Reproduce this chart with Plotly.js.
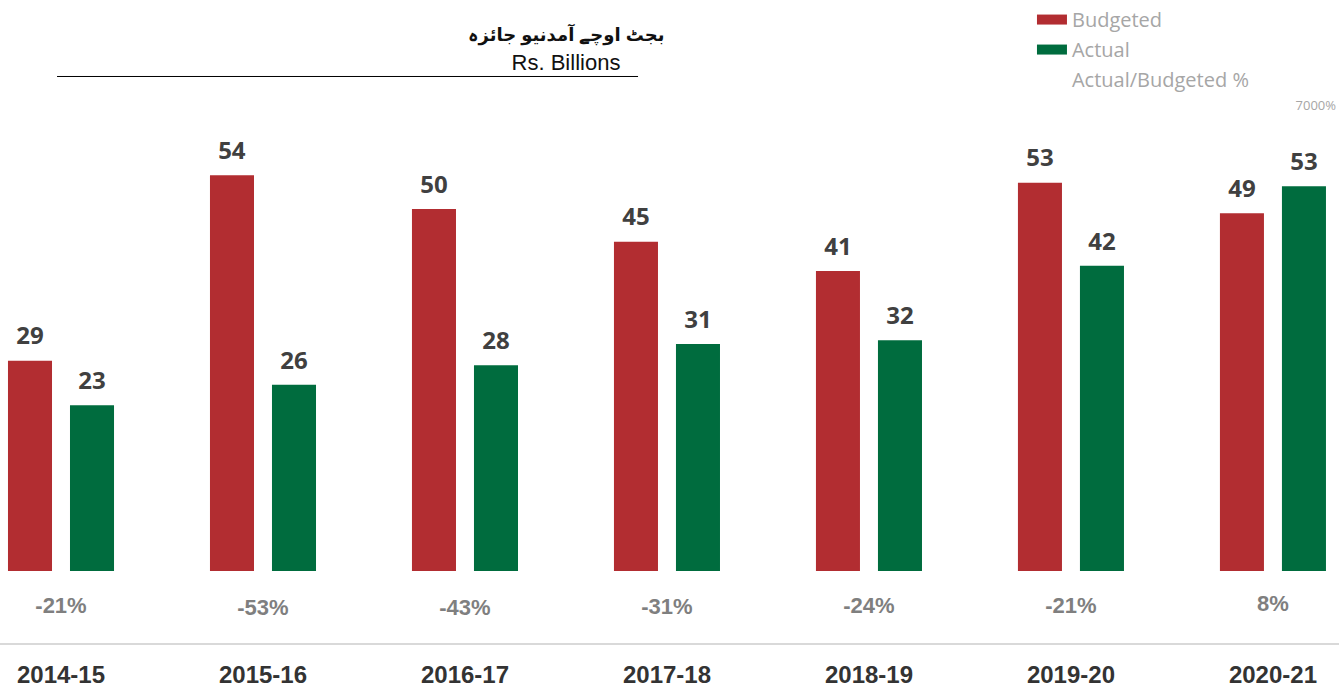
<!DOCTYPE html>
<html>
<head>
<meta charset="utf-8">
<script src="https://cdn.plot.ly/plotly-3.0.1.min.js"></script>
<style>html,body{margin:0;padding:0;background:#fff;}#chart{width:1339px;height:689px;}</style>
</head>
<body>
<div id="chart"></div>
<script>
var years = ["2014-15", "2015-16", "2016-17", "2017-18", "2018-19", "2019-20", "2020-21"];
var budgeted = [28.8, 54.2, 49.6, 45.1, 41.1, 53.2, 49.0];
var actual = [22.7, 25.5, 28.2, 31.1, 31.6, 41.8, 52.7];
var ratioPct = [-0.21, -0.53, -0.43, -0.31, -0.24, -0.21, 0.08];
var titleUrdu = "بجٹ اوچے آمدنیو جائزہ";
var titleUnit = "Rs. Billions";
var y2TickVals = [70];

var redColor = "#b22d31";
var greenColor = "#006c3e";

// value label: bold number plus a tiny transparent second line that lifts the label off the bar
var barLabelTemplate = '<span style="font-size:24px"><b>%{y:.0f}</b></span><br><span style="font-size:4px;color:rgba(0,0,0,0)">.</span>';
var barLabelFont = {family: "Open Sans, DejaVu Sans, sans-serif", size: 9.5, color: "#404040", weight: 700};

var traces = [
  {
    type: "bar", name: "Budgeted", x: years, y: budgeted,
    marker: {color: redColor},
    texttemplate: barLabelTemplate, textposition: "outside",
    textfont: barLabelFont, cliponaxis: false,
    showlegend: false, hoverinfo: "x+y"
  },
  {
    type: "bar", name: "Actual", x: years, y: actual,
    marker: {color: greenColor},
    texttemplate: barLabelTemplate, textposition: "outside",
    textfont: barLabelFont, cliponaxis: false,
    showlegend: false, hoverinfo: "x+y"
  },
  // legend entries (wide swatches), drawn on a hidden axis so they add no marks to the plot
  {
    type: "scatter", mode: "lines", name: "Budgeted", x: years, y: budgeted,
    yaxis: "y3", line: {color: redColor, width: 13},
    legendgroup: "a", hoverinfo: "skip"
  },
  {
    type: "scatter", mode: "lines", name: "Actual", x: years, y: actual,
    yaxis: "y3", line: {color: greenColor, width: 13},
    legendgroup: "b", hoverinfo: "skip"
  },
  {
    type: "scatter", mode: "lines", name: "Actual/Budgeted %", x: years, y: ratioPct,
    yaxis: "y2", line: {color: "rgba(0,0,0,0)", width: 0},
    legendgroup: "c", hoverinfo: "skip"
  },
  {
    type: "scatter", mode: "text", name: "Actual/Budgeted % labels", x: years, y: ratioPct,
    yaxis: "y2", texttemplate: "<b>%{y:.0%}</b>", textposition: "middle center",
    textfont: {family: "Liberation Sans, Arial, sans-serif", size: 22, color: "#7f7f7f"},
    showlegend: false, cliponaxis: false, hoverinfo: "skip"
  }
];

var layout = {
  width: 1339, height: 689,
  margin: {l: 0, r: 0, t: 80, b: 46, pad: 0},
  paper_bgcolor: "#ffffff", plot_bgcolor: "#ffffff",
  barmode: "group", bargap: 0.386, bargroupgap: 0.29,
  showlegend: true,
  title: {
    text: '<span style="font-size:18px"><b>' + titleUrdu + '</b></span><br>' + titleUnit,
    font: {family: "Liberation Sans, DejaVu Sans, Arial, sans-serif", size: 22, color: "#111111"},
    x: 0.4227, xanchor: "center", xref: "paper",
    y: 1, yref: "container", yanchor: "top", pad: {t: 41}
  },
  legend: {
    x: 0.7707, xanchor: "left", y: 1.142, yanchor: "top",
    bgcolor: "rgba(0,0,0,0)", traceorder: "grouped", tracegroupgap: 1,
    font: {family: "Open Sans, DejaVu Sans, sans-serif", size: 20, color: "#a6a6a6"}
  },
  xaxis: {
    type: "category", range: [-0.302, 6.327],
    showline: true, linecolor: "#d9d9d9", linewidth: 2,
    ticks: "", showgrid: false, zeroline: false, ticklabelstandoff: 9,
    tickfont: {family: "Liberation Sans, Arial, sans-serif", size: 24, color: "#333333", weight: 700},
    fixedrange: true
  },
  yaxis: {
    range: [-9.863, 67.26], showticklabels: false, showgrid: false,
    zeroline: false, showline: false, ticks: "", fixedrange: true
  },
  yaxis2: {
    overlaying: "y", side: "right", range: [-5.17, 73.49],
    tickvals: y2TickVals, tickformat: ".0%", ticks: "",
    ticklabelposition: "inside", showgrid: false, zeroline: false, showline: false,
    tickfont: {family: "Open Sans, DejaVu Sans, sans-serif", size: 13, color: "#a6a6a6"},
    fixedrange: true
  },
  yaxis3: {
    overlaying: "y", range: [1000, 2000], visible: false, fixedrange: true
  },
  shapes: [
    {type: "line", xref: "paper", yref: "paper", x0: 0.0426, x1: 0.4765, y0: 1.00622, y1: 1.00622,
     line: {color: "#000000", width: 1}}
  ]
};

Plotly.newPlot("chart", traces, layout, {displayModeBar: false, staticPlot: true});
</script>
</body>
</html>
